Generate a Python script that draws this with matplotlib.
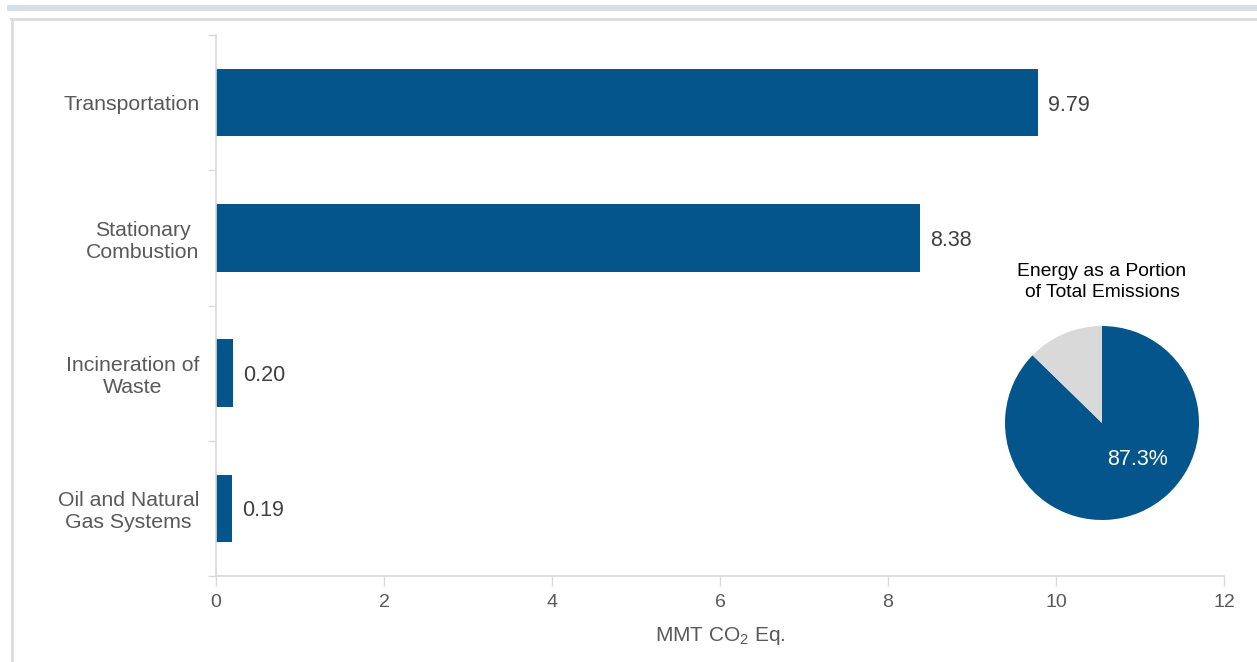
import numpy as np
import matplotlib
matplotlib.use("Agg")
import matplotlib.pyplot as plt
from matplotlib.patches import Rectangle
from matplotlib.lines import Line2D

plt.rcParams['font.family'] = ['Liberation Sans', 'DejaVu Sans']
plt.rcParams['mathtext.default'] = 'regular'

# data
categories = ['Transportation', 'Stationary\nCombustion', 'Incineration of\nWaste',
              'Oil and Natural\nGas Systems']
values = [9.79, 8.38, 0.20, 0.19]
value_labels = ['9.79', '8.38', '0.20', '0.19']
x_ticks = [0, 2, 4, 6, 8, 10, 12]
pie_share = [87.3, 12.7]
pie_title = 'Energy as a Portion\nof Total Emissions'

blue = '#03558b'
light = '#d9d9d9'
axis_grey = '#d9d9d9'
text_grey = '#595959'

fig = plt.figure(figsize=(12.57, 6.62), dpi=100)

# frame decorations
fig.add_artist(Rectangle((7 / 1257, 1 - 11 / 662), 1, 6 / 662, transform=fig.transFigure,
                         facecolor='#d9dfe3', edgecolor='none'))
fig.add_artist(Line2D([11 / 1257, 1], [1 - 18.5 / 662, 1 - 18.5 / 662], transform=fig.transFigure,
                      color='#dcdcdc', lw=2))
fig.add_artist(Line2D([11.5 / 1257, 11.5 / 1257], [0, 1 - 18.5 / 662], transform=fig.transFigure,
                      color='#dcdcdc', lw=2))

ax = fig.add_axes([216 / 1257, 1 - 576 / 662, (1224 - 216) / 1257, (576 - 35) / 662])
pos = np.arange(len(categories))
ax.barh(pos, values, height=0.5, color=blue)
for p, v, lab in zip(pos, values, value_labels):
    ax.text(v + 0.12, p, lab, va='center_baseline', ha='left', fontsize=15.5, color='#404040')

ax.set_xlim(0, 12)
ax.set_ylim(3.5, -0.5)
ax.set_xticks(x_ticks)
ax.set_xticklabels([str(t) for t in x_ticks], fontsize=14, color=text_grey)
ax.set_yticks(np.arange(-0.5, 4, 1))
ax.set_yticklabels([])
ax.set_yticks(pos, minor=True)
ax.set_yticklabels(categories, minor=True, fontsize=15.3, color=text_grey, ha='right',
                   multialignment='center')
ax.tick_params(axis='y', which='minor', length=0, pad=12)
ax.tick_params(axis='y', which='major', length=6, color=axis_grey, width=1)
ax.tick_params(axis='x', length=7, color=axis_grey, width=1, pad=6)
for s in ['top', 'right']:
    ax.spines[s].set_visible(False)
for s in ['left', 'bottom']:
    ax.spines[s].set_color(axis_grey)
    ax.spines[s].set_linewidth(1.2)
ax.set_xlabel('MMT CO$_2$ Eq.', fontsize=15, color=text_grey, labelpad=10)

# pie inset
pax = fig.add_axes([(1102 - 97) / 1257, 1 - (423 + 97) / 662, 194 / 1257, 194 / 662])
wedges, _ = pax.pie(pie_share, colors=[blue, light], startangle=90, counterclock=False,
                    wedgeprops=dict(linewidth=0))
pax.set_xlim(-1, 1)
pax.set_ylim(-1, 1)
pax.set_aspect('equal')
pax.text(0.37, -0.38, '87.3%', color='white', fontsize=15.5, ha='center', va='center')
fig.text(1102 / 1257, 1 - 282 / 662, pie_title, ha='center', va='center', fontsize=13.9,
         color='black', linespacing=1.3)

fig.savefig('out.png', dpi=100)
